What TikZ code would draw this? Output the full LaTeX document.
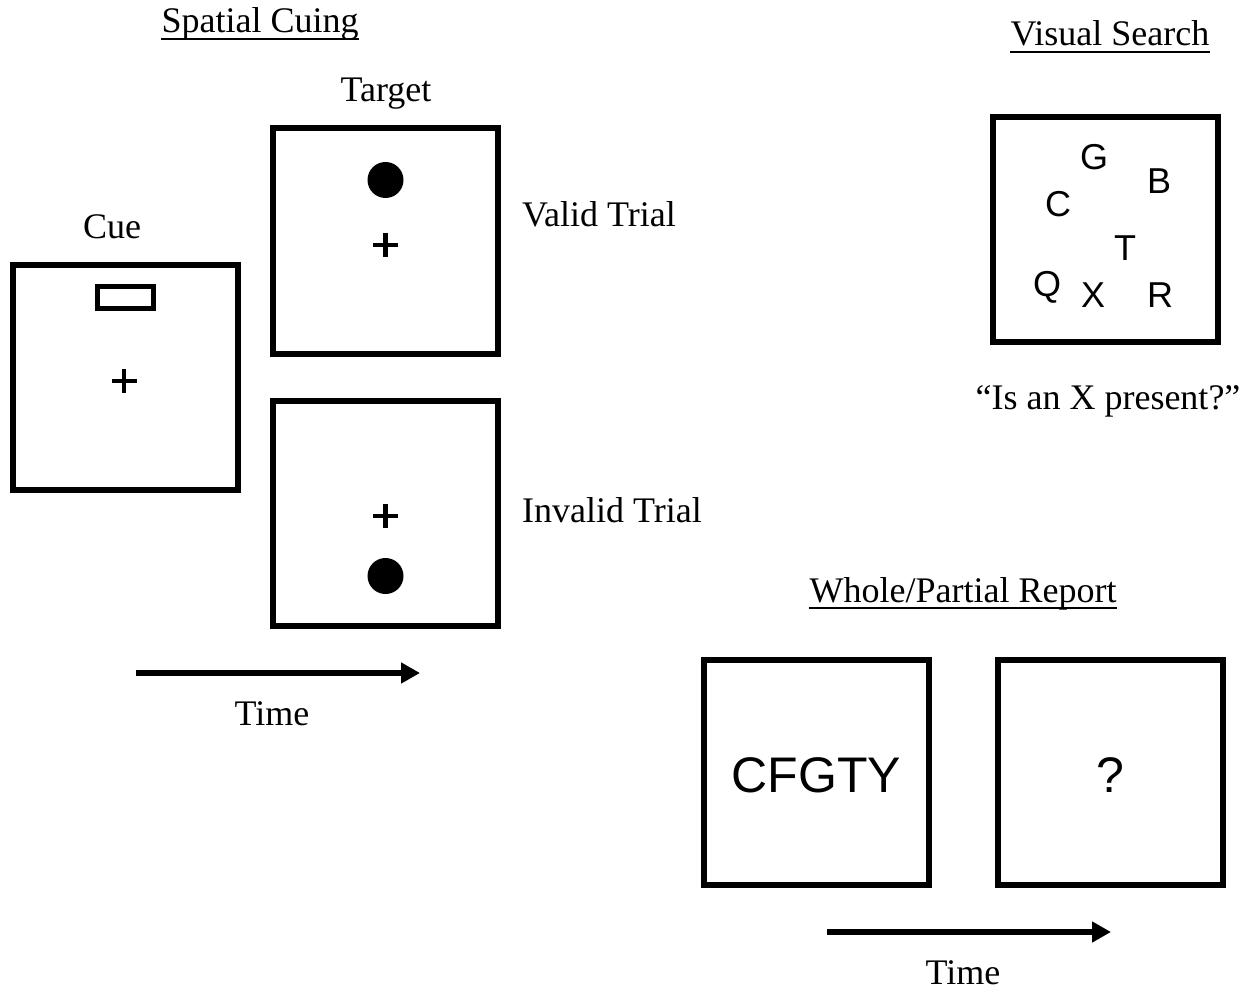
\documentclass[tikz,border=0pt]{standalone}
\usepackage{fontspec}
\setmainfont{Liberation Serif}
\newfontfamily\arialfont{Liberation Sans}
\usetikzlibrary{arrows.meta}
\tikzset{
  frame/.style={draw, line width=6pt, minimum width=225pt, minimum height=225pt, inner sep=0pt},
  lbl/.style={font=\fontsize{36}{40}\selectfont, inner sep=0pt, anchor=base},
  lblw/.style={lbl, anchor=base west},
  ltr/.style={font=\arialfont\fontsize{36}{40}\selectfont, inner sep=0pt, anchor=base},
  bigltr/.style={font=\arialfont\fontsize{50}{54}\selectfont, inner sep=0pt, anchor=base},
  dot/.style={circle, fill=black, minimum size=36pt, inner sep=0pt},
  cuebox/.style={draw, line width=5pt, minimum width=56pt, minimum height=22pt, inner sep=0pt},
  timearrow/.style={line width=6pt, -{Triangle[length=19pt,width=20pt]}},
  uline/.style={line width=2pt},
  crossmark/.pic={\draw[line width=4.5pt] (-12.5,0) -- (12.5,0) (0,-12) -- (0,12);}
}
\begin{document}
\begin{tikzpicture}[x=1pt,y=-1pt]
\useasboundingbox (0,0) rectangle (1252,992);

% ---------- Spatial Cuing ----------
\node[lbl] (sc) at (260,33) {Spatial Cuing};
\draw[uline] ([yshift=-6pt]sc.base west) -- ([yshift=-6pt]sc.base east);

\node[lbl] (cuelbl) at (112,239) {Cue};
\node[frame] (cue) at (125,377.5) {};
\node[cuebox] (cuerect) at (125.5,297.5) {};
\pic at (124,381) {crossmark};

\node[lbl] (tgtlbl) at (386,102) {Target};
\node[frame] (valid) at (385.5,241) {};
\node[dot] (vdot) at (385.5,180) {};
\pic at (385.5,245) {crossmark};
\node[lblw] (validlbl) at (522,227) {Valid Trial};

\node[frame] (invalid) at (385.5,513) {};
\pic at (385.5,516) {crossmark};
\node[dot] (idot) at (385.5,576) {};
\node[lblw] (invalidlbl) at (522,522) {Invalid Trial};

\coordinate (ta1) at (136,673);
\coordinate (tb1) at (420,673);
\draw[timearrow] (ta1) -- (tb1);
\node[lbl] (time1) at (272,725) {Time};

% ---------- Visual Search ----------
\node[lbl] (vs) at (1110,46) {Visual Search};
\draw[uline] ([yshift=-6pt]vs.base west) -- ([yshift=-6pt]vs.base east);
\node[frame] (vsbox) at (1105.5,229.5) {};
\node[ltr] (lG) at (1094,170) {G};
\node[ltr] (lB) at (1159,194) {B};
\node[ltr] (lC) at (1058,217) {C};
\node[ltr] (lT) at (1125,261) {T};
\node[ltr] (lQ) at (1047,296) {Q};
\node[ltr] (lX) at (1093,307) {X};
\node[ltr] (lR) at (1160,307) {R};
\node[lbl] (question) at (1108,409) {“Is an X present?”};

% ---------- Whole/Partial Report ----------
\node[lbl] (wp) at (963,602) {Whole/Partial Report};
\draw[uline] ([yshift=-6pt]wp.base west) -- ([yshift=-6pt]wp.base east);
\node[frame] (wp1) at (816.5,772.5) {};
\node[frame] (wp2) at (1110.5,772.5) {};
\node[bigltr] (letters) at (816.5,792) {CFGTY};
\node[bigltr] (qmark) at (1110.5,792) {?};

\coordinate (ta2) at (827,932);
\coordinate (tb2) at (1111,932);
\draw[timearrow] (ta2) -- (tb2);
\node[lbl] (time2) at (963,984) {Time};
\end{tikzpicture}
\end{document}
